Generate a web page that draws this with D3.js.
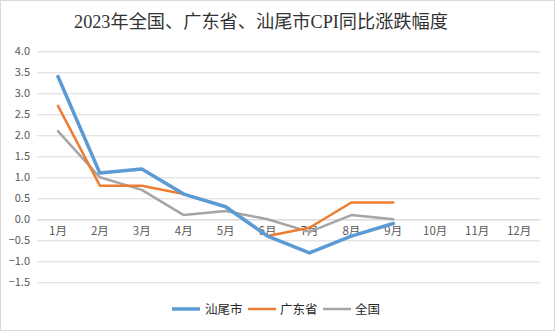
<!DOCTYPE html>
<html>
<head>
<meta charset="utf-8">
<script src="https://cdn.jsdelivr.net/npm/d3@7"></script>
<style>
  html, body { margin: 0; padding: 0; background: #fff; }
  svg { display: block; }
</style>
</head>
<body>
<svg id="chart" width="555" height="331"></svg>
<script>
// Monthly CPI year-on-year change (%), 2023
const months = ["1月","2月","3月","4月","5月","6月","7月","8月","9月","10月","11月","12月"];
const shanwei   = [3.4, 1.1, 1.2, 0.6, 0.3, -0.4, -0.8, -0.4, -0.1];
const guangdong = [2.7, 0.8, 0.8, 0.6, 0.3, -0.4, -0.2, 0.4, 0.4];
const national  = [2.1, 1.0, 0.7, 0.1, 0.2, 0.0, -0.3, 0.1, 0.0];
const yTicks = [4.0, 3.5, 3.0, 2.5, 2.0, 1.5, 1.0, 0.5, 0.0, -0.5, -1.0, -1.5];
const seriesNames = ["汕尾市", "广东省", "全国"];

const series = [
  { name: seriesNames[0], values: shanwei,   color: "#5B9BD5", width: 3.5 },
  { name: seriesNames[1], values: guangdong, color: "#ED7D31", width: 2.5 },
  { name: seriesNames[2], values: national,  color: "#A5A5A5", width: 2.5 }
];

const W = 555, H = 331;
const svg = d3.select("#chart");
const sans = "'Microsoft YaHei','Noto Sans CJK SC',sans-serif";

// chart frame
svg.append("rect").attr("x", 0.5).attr("y", 0.5).attr("width", W - 1).attr("height", H - 1)
  .attr("fill", "#fff").attr("stroke", "#d9d9d9");

// title
svg.append("text").attr("x", 261).attr("y", 28).attr("text-anchor", "middle")
  .attr("font-family", "'Liberation Serif','Noto Sans CJK SC',serif")
  .attr("font-size", 18.2).attr("fill", "#333")
  .text("2023年全国、广东省、汕尾市CPI同比涨跌幅度");

const x = d3.scaleBand().domain(months).range([37, 540]);
const y = d3.scaleLinear().domain([-1.5, 4.0]).range([282.3, 51.3]);

// horizontal gridlines + value labels
const yAxis = d3.axisLeft(y).tickValues(yTicks).tickFormat(d3.format(".1f"))
  .tickSize(-(540 - 37)).tickPadding(7);
const gy = svg.append("g").attr("transform", "translate(37,0)").call(yAxis);
gy.select(".domain").remove();
gy.selectAll(".tick line").attr("stroke", "#d9d9d9").attr("stroke-width", 1);
gy.selectAll(".tick text").attr("fill", "#595959").attr("font-size", 11)
  .attr("font-family", sans);

// category labels along the zero line
const xAxis = d3.axisBottom(x).tickSize(0).tickPadding(8);
const gx = svg.append("g").attr("transform", `translate(0,${y(0)})`).call(xAxis);
gx.select(".domain").attr("stroke", "#d9d9d9");
gx.selectAll(".tick text").attr("fill", "#595959").attr("font-size", 11.5)
  .attr("font-family", sans);

// series lines
const line = d3.line()
  .x((d, i) => x(months[i]) + x.bandwidth() / 2)
  .y(d => y(d));

// draw national first so the city line sits on top
[...series].reverse().forEach(s => {
  svg.append("path").datum(s.values)
    .attr("d", line)
    .attr("fill", "none")
    .attr("stroke", s.color)
    .attr("stroke-width", s.width)
    .attr("stroke-linejoin", "round")
    .attr("stroke-linecap", "round");
});

// legend
const legendItems = [
  { x: 172, tx: 205 },
  { x: 248, tx: 280 },
  { x: 323, tx: 355 }
];
series.forEach((s, i) => {
  const L = legendItems[i];
  svg.append("line").attr("x1", L.x).attr("x2", L.x + 28)
    .attr("y1", 309).attr("y2", 309)
    .attr("stroke", s.color).attr("stroke-width", s.width);
  svg.append("text").attr("x", L.tx).attr("y", 314)
    .attr("font-family", sans).attr("font-size", 12.5).attr("fill", "#262626")
    .text(s.name);
});
</script>
</body>
</html>
